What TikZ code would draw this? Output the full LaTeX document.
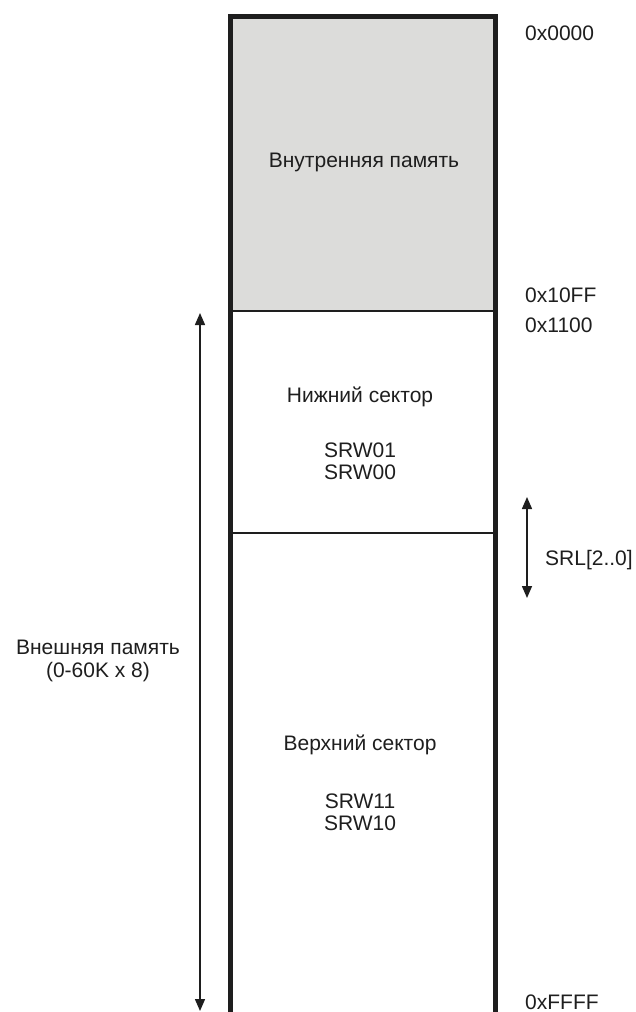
\documentclass[tikz,border=0pt]{standalone}
\usepackage{fontspec}
\setmainfont{Liberation Sans}
\usetikzlibrary{arrows.meta}
\definecolor{memgray}{HTML}{DCDCDA}
\definecolor{inkc}{HTML}{1E1E1E}
\begin{document}
\begin{tikzpicture}[x=1pt,y=-1pt,
  lbl/.style={font=\fontsize{21}{23}\selectfont, text=inkc, inner sep=0pt, align=center},
  addr/.style={lbl, anchor=west},
  wall/.style={line width=5pt, draw=inkc},
  divider/.style={line width=1.8pt, draw=inkc},
  dimarrow/.style={line width=1.5pt, draw=inkc, {Triangle[length=12pt,width=10pt]}-{Triangle[length=12pt,width=10pt]}}]
\useasboundingbox (0,0) rectangle (636,1012);
\fill[memgray] (230,16) rectangle (496,311);
\draw[divider] (230,311) -- (496,311);
\draw[divider] (230,533) -- (496,533);
\draw[wall] (230.5,1012) -- (230.5,16) -- (495.5,16) -- (495.5,1012);
% labels inside
\node[lbl] (intmem) at (364,162) {Внутренняя память};
\node[lbl] (lowsec) at (360,397) {Нижний сектор};
\node[lbl] (srw01) at (360,450) {SRW01};
\node[lbl] (srw00) at (360,472) {SRW00};
\node[lbl] (upsec) at (360,745) {Верхний сектор};
\node[lbl] (srw11) at (360,801) {SRW11};
\node[lbl] (srw10) at (360,823) {SRW10};
% addresses
\node[addr] (a0) at (525,33) {0x0000};
\node[addr] (a1) at (525,295) {0x10FF};
\node[addr] (a2) at (525,325) {0x1100};
\node[addr] (a3) at (525,1002) {0xFFFF};
% arrows
\coordinate (l1) at (200,313);
\coordinate (l2) at (200,1011);
\draw[dimarrow] (l1) -- (l2);
\node[lbl] (ext) at (98,661) {Внешняя память\\(0-60K x 8)};
\coordinate (r1) at (527,497);
\coordinate (r2) at (527,598);
\draw[dimarrow] (r1) -- (r2);
\node[addr] (srl) at (545,560) {SRL[2..0]};
\end{tikzpicture}
\end{document}
